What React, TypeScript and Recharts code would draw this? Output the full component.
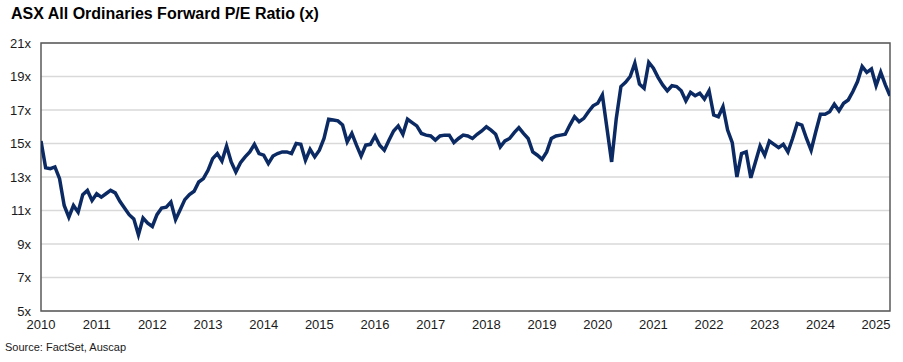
import React from 'react';
import {
  LineChart,
  Line,
  XAxis,
  YAxis,
  CartesianGrid,
  ReferenceArea
} from 'recharts';

// Monthly forward P/E, Jan to Dec of each year
const pe2010 = [15.15, 13.55, 13.5, 13.6, 12.9, 11.3, 10.6, 11.3, 10.9, 11.95, 12.2, 11.6];
const pe2011 = [12.0, 11.8, 12.0, 12.2, 12.05, 11.55, 11.15, 10.75, 10.5, 9.55, 10.55, 10.25];
const pe2012 = [10.05, 10.75, 11.15, 11.2, 11.5, 10.45, 11.05, 11.65, 11.95, 12.15, 12.7, 12.9];
const pe2013 = [13.4, 14.1, 14.4, 13.95, 14.85, 13.9, 13.3, 13.85, 14.2, 14.5, 14.95, 14.4];
const pe2014 = [14.3, 13.8, 14.25, 14.4, 14.5, 14.5, 14.4, 15.0, 14.95, 14.0, 14.65, 14.2];
const pe2015 = [14.6, 15.3, 16.45, 16.4, 16.35, 16.1, 15.1, 15.6, 14.9, 14.25, 14.9, 14.95];
const pe2016 = [15.45, 14.9, 14.6, 15.2, 15.75, 16.05, 15.55, 16.45, 16.25, 16.05, 15.6, 15.5];
const pe2017 = [15.45, 15.2, 15.45, 15.5, 15.5, 15.05, 15.3, 15.5, 15.45, 15.3, 15.55, 15.75];
const pe2018 = [16.0, 15.8, 15.55, 14.8, 15.15, 15.3, 15.65, 15.95, 15.6, 15.3, 14.5, 14.3];
const pe2019 = [14.05, 14.5, 15.3, 15.45, 15.5, 15.55, 16.1, 16.6, 16.3, 16.5, 16.9, 17.25];
const pe2020 = [17.4, 17.9, 15.9, 13.9, 16.5, 18.4, 18.65, 19.0, 19.8, 18.55, 18.3, 19.85];
const pe2021 = [19.5, 18.95, 18.5, 18.15, 18.45, 18.4, 18.15, 17.55, 18.05, 17.85, 18.0, 17.65];
const pe2022 = [18.15, 16.7, 16.6, 17.2, 15.8, 15.05, 13.0, 14.4, 14.5, 12.95, 13.9, 14.85];
const pe2023 = [14.3, 15.15, 14.95, 14.75, 14.95, 14.5, 15.3, 16.2, 16.1, 15.3, 14.6, 15.7];
const pe2024 = [16.75, 16.75, 16.9, 17.35, 16.95, 17.4, 17.6, 18.1, 18.7, 19.6, 19.25, 19.45];
const pe2025 = [18.45, 19.25, 18.5, 17.85];

const years = [2010, 2011, 2012, 2013, 2014, 2015, 2016, 2017, 2018, 2019, 2020, 2021, 2022, 2023, 2024, 2025];
const yTicks = [5, 7, 9, 11, 13, 15, 17, 19, 21];

const byYear = [pe2010, pe2011, pe2012, pe2013, pe2014, pe2015, pe2016, pe2017, pe2018, pe2019, pe2020, pe2021, pe2022, pe2023, pe2024, pe2025];

const data = byYear.flatMap((vals, i) =>
  vals.map((pe, m) => ({ t: years[i] + m / 12, pe }))
);

const FONT = '"Liberation Sans", Arial, sans-serif';
const tickStyle = { fontSize: 13, fill: '#1a1a1a', fontFamily: FONT };

export default function App() {
  return (
    <div style={{ position: 'absolute', left: 0, top: 0, width: 903, height: 362, background: '#fff' }}>
      <div
        style={{
          position: 'absolute',
          left: 11,
          top: 5,
          fontFamily: FONT,
          fontWeight: 'bold',
          fontSize: 16,
          color: '#000'
        }}
      >
        ASX All Ordinaries Forward P/E Ratio (x)
      </div>
      <LineChart
        width={903}
        height={362}
        data={data}
        margin={{ top: 43, right: 13, bottom: 31, left: 0 }}
      >
        <CartesianGrid vertical={false} stroke="#d9d9d9" strokeWidth={1.5} />
        <XAxis
          dataKey="t"
          type="number"
          domain={[2010, 2025.25]}
          ticks={years}
          allowDataOverflow
          height={20}
          axisLine={false}
          tickLine={false}
          tickSize={0}
          tickMargin={9}
          tick={tickStyle}
        />
        <YAxis
          type="number"
          domain={[5, 21]}
          ticks={yTicks}
          width={41}
          axisLine={false}
          tickLine={false}
          tickSize={0}
          tickMargin={10}
          tick={tickStyle}
          tickFormatter={(v: number) => `${v}x`}
        />
        <ReferenceArea
          x1={2010}
          x2={2025.25}
          y1={5}
          y2={21}
          fill="none"
          fillOpacity={0}
          stroke="#595959"
          strokeWidth={1.5}
        />
        <Line
          type="linear"
          dataKey="pe"
          stroke="#0b2a63"
          strokeWidth={3.5}
          dot={false}
          isAnimationActive={false}
        />
      </LineChart>
      <div
        style={{
          position: 'absolute',
          left: 5,
          top: 341,
          fontFamily: FONT,
          fontSize: 11,
          color: '#1a1a1a'
        }}
      >
        Source: FactSet, Auscap
      </div>
    </div>
  );
}
